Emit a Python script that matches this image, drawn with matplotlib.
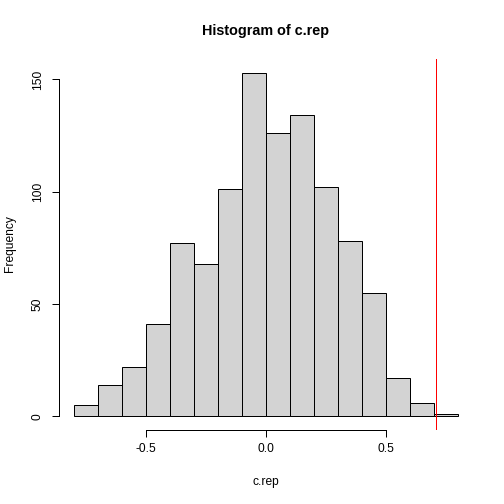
import matplotlib
matplotlib.use("Agg")
import matplotlib.pyplot as plt
import numpy as np

plt.rcParams['font.family'] = ['Liberation Sans', 'DejaVu Sans']

bin_edges = [-0.8, -0.7, -0.6, -0.5, -0.4, -0.3, -0.2, -0.1, 0.0, 0.1, 0.2, 0.3, 0.4, 0.5, 0.6, 0.7, 0.8]
counts = [5, 14, 22, 41, 77, 68, 101, 153, 126, 134, 102, 78, 55, 17, 6, 1]
observed = 0.708
xticks = [-0.5, 0.0, 0.5]
xticklabels = ["-0.5", "0.0", "0.5"]
yticks = [0, 50, 100, 150]

W = H = 504
fig = plt.figure(figsize=(7, 7), dpi=72)
ax = fig.add_axes([58.9 / W, 1 - 430 / H, (473.7 - 58.9) / W, (430 - 59) / H])

lefts = np.array(bin_edges[:-1])
widths = np.diff(bin_edges)
ax.bar(lefts, counts, width=widths, align='edge', color='#D3D3D3',
       edgecolor='black', linewidth=1)
ax.axvline(observed, color='red', linewidth=1)

ax.set_xlim(-0.864, 0.864)
ax.set_ylim(-0.04 * 153, 153 * 1.04)

for s in ['top', 'right']:
    ax.spines[s].set_visible(False)
ax.spines['left'].set_bounds(0, 150)
ax.spines['bottom'].set_bounds(-0.5, 0.5)
ax.spines['left'].set_linewidth(1)
ax.spines['bottom'].set_linewidth(1)

ax.set_xticks(xticks)
ax.set_xticklabels(xticklabels)
ax.set_yticks(yticks)
ax.set_yticklabels([str(v) for v in yticks], rotation=90, va='center')
ax.tick_params(axis='both', direction='out', length=7.2, width=1, labelsize=12)
ax.tick_params(axis='x', pad=6)
ax.tick_params(axis='y', pad=8)

fig.text(266 / W, 1 - 31 / H, "Histogram of c.rep", ha='center', va='center',
         fontsize=14.4, fontweight='bold')
fig.text(266 / W, 1 - 482 / H, "c.rep", ha='center', va='center', fontsize=12)
fig.text(10 / W, 1 - 244 / H, "Frequency", ha='center', va='center', fontsize=12,
         rotation=90)

fig.savefig("out.png", dpi=72)
